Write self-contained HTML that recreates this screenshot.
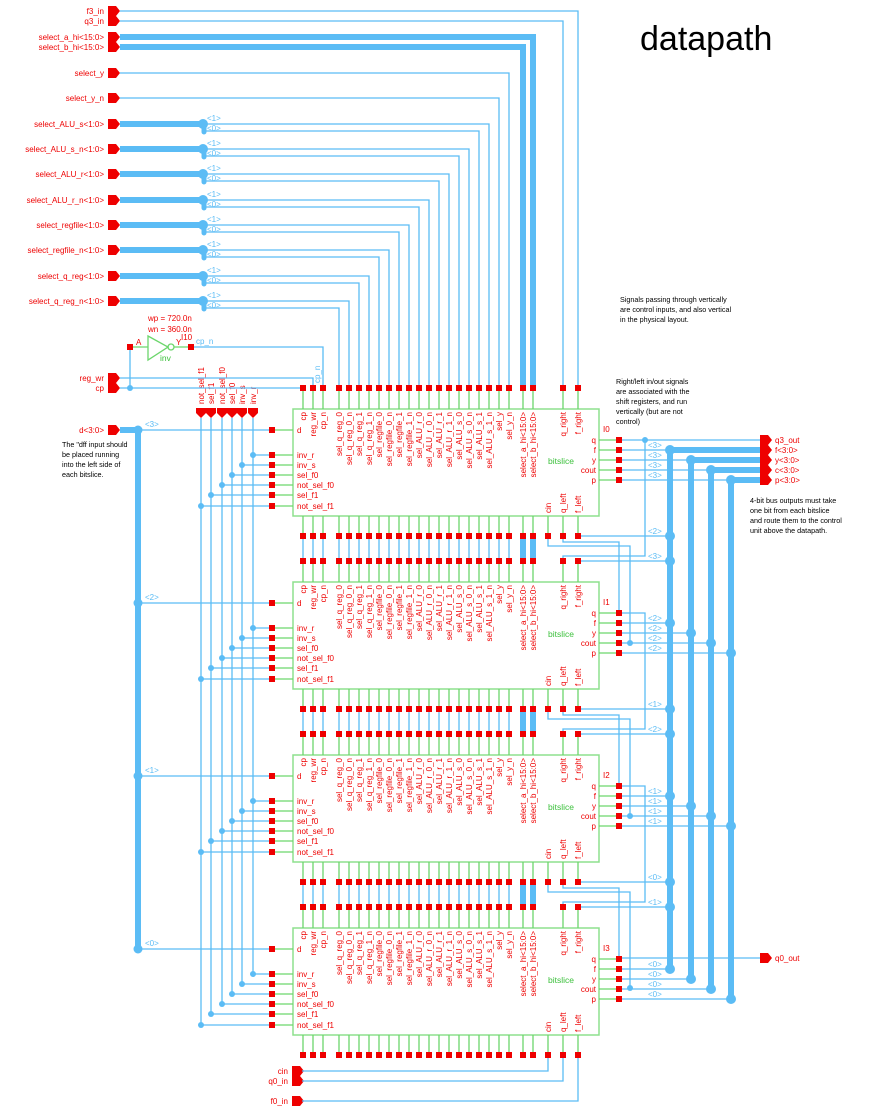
<!DOCTYPE html>
<html><head><meta charset="utf-8"><style>
html,body{margin:0;padding:0;background:#fff}
svg{display:block}
text{font-family:"Liberation Sans",sans-serif}
.r{fill:#ee0000;font-size:8px}
.g{fill:#3cc03c;font-size:8.5px}
.b{fill:#5bbcf5;font-size:8px}
.k{fill:#000;font-size:7.2px}
.w{stroke:#5bbcf5;stroke-width:1.3;fill:none}
.W{stroke:#5bbcf5;stroke-width:6;fill:none}
.gs{stroke:#6cd66c;stroke-width:1.3;fill:none}
.pin{fill:#ee0000}
.d{fill:#5bbcf5}
</style></head><body>
<svg width="879" height="1114" viewBox="0 0 879 1114" xmlns="http://www.w3.org/2000/svg">
<text x="640" y="50" font-size="34" fill="#000">datapath</text>

<text class="k" x="620" y="302">Signals passing through vertically</text>
<text class="k" x="620" y="312">are control inputs, and also vertical</text>
<text class="k" x="620" y="322">in the physical layout.</text>
<text class="k" x="616" y="384">Right/left in/out signals</text>
<text class="k" x="616" y="394">are associated with the</text>
<text class="k" x="616" y="404">shift registers, and run</text>
<text class="k" x="616" y="414">vertically (but are not</text>
<text class="k" x="616" y="424">control)</text>
<text class="k" x="750" y="503">4-bit bus outputs must take</text>
<text class="k" x="750" y="513">one bit from each bitslice</text>
<text class="k" x="750" y="523">and route them to the control</text>
<text class="k" x="750" y="533">unit above the datapath.</text>
<text class="k" x="62" y="447">The "dff input should</text>
<text class="k" x="62" y="457">be placed running</text>
<text class="k" x="62" y="467">into the left side of</text>
<text class="k" x="62" y="477">each bitslice.</text>

<!-- input pins left -->
<g class="r" text-anchor="end">
<text x="104" y="14">f3_in</text><text x="104" y="24">q3_in</text>
<text x="104" y="40">select_a_hi&lt;15:0&gt;</text><text x="104" y="50">select_b_hi&lt;15:0&gt;</text>
<text x="104" y="76">select_y</text><text x="104" y="101">select_y_n</text>
<text x="104" y="127">select_ALU_s&lt;1:0&gt;</text><text x="104" y="152">select_ALU_s_n&lt;1:0&gt;</text>
<text x="104" y="177">select_ALU_r&lt;1:0&gt;</text><text x="104" y="203">select_ALU_r_n&lt;1:0&gt;</text>
<text x="104" y="228">select_regfile&lt;1:0&gt;</text><text x="104" y="253">select_regfile_n&lt;1:0&gt;</text>
<text x="104" y="279">select_q_reg&lt;1:0&gt;</text><text x="104" y="304">select_q_reg_n&lt;1:0&gt;</text>
<text x="104" y="381">reg_wr</text><text x="104" y="391">cp</text>
<text x="104" y="433">d&lt;3:0&gt;</text>
<text x="288" y="1074">cin</text><text x="288" y="1084">q0_in</text><text x="288" y="1104">f0_in</text>
</g>
<g class="pin">
<path d="M108 6h8l4 5-4 5h-8zM108 16h8l4 5-4 5h-8zM108 32h8l4 5-4 5h-8zM108 42h8l4 5-4 5h-8zM108 68h8l4 5-4 5h-8zM108 93h8l4 5-4 5h-8zM108 119h8l4 5-4 5h-8zM108 144h8l4 5-4 5h-8zM108 169h8l4 5-4 5h-8zM108 195h8l4 5-4 5h-8zM108 220h8l4 5-4 5h-8zM108 245h8l4 5-4 5h-8zM108 271h8l4 5-4 5h-8zM108 296h8l4 5-4 5h-8zM108 373h8l4 5-4 5h-8zM108 383h8l4 5-4 5h-8zM108 425h8l4 5-4 5h-8z"/>
<path d="M292 1066h8l4 5-4 5h-8zM292 1076h8l4 5-4 5h-8zM292 1096h8l4 5-4 5h-8z"/>
<path d="M760 435h8l4 5-4 5h-8zM760 445h8l4 5-4 5h-8zM760 455h8l4 5-4 5h-8zM760 465h8l4 5-4 5h-8zM760 475h8l4 5-4 5h-8zM760 953h8l4 5-4 5h-8z"/>
<path d="M196 408h10v5l-5 5-5-5zM206 408h10v5l-5 5-5-5zM217 408h10v5l-5 5-5-5zM227 408h10v5l-5 5-5-5zM237 408h10v5l-5 5-5-5zM248 408h10v5l-5 5-5-5z"/>
</g>
<g class="r">
<text x="775" y="443">q3_out</text><text x="775" y="453">f&lt;3:0&gt;</text><text x="775" y="463">y&lt;3:0&gt;</text><text x="775" y="473">c&lt;3:0&gt;</text><text x="775" y="483">p&lt;3:0&gt;</text><text x="775" y="961">q0_out</text>
<text transform="translate(204,404) rotate(-90)">not_sel_f1</text>
<text transform="translate(214,404) rotate(-90)">sel_f1</text>
<text transform="translate(225,404) rotate(-90)">not_sel_f0</text>
<text transform="translate(235,404) rotate(-90)">sel_f0</text>
<text transform="translate(245,404) rotate(-90)">inv_s</text>
<text transform="translate(256,404) rotate(-90)">inv_r</text>
</g>

<!-- top wires -->
<path class="w" d="M120 11H578V385M120 21H563V385M120 73H509V385M120 98H499V385"/>
<path class="W" d="M120 37H533V385M120 47H523V385"/>
<g>
<path class="W" d="M120 124H200M120 149H200M120 174H200M120 200H200M120 225H200M120 250H200M120 276H200M120 301H200"/>
<path class="w" d="M200 124H489V385M204 124V131H479V385M200 149H469V385M204 149V156H459V385M200 174H449V385M204 174V181H439V385M200 200H429V385M204 200V207H419V385M200 225H409V385M204 225V232H399V385M200 250H389V385M204 250V257H379V385M200 276H369V385M204 276V283H359V385M200 301H349V385M204 301V308H339V385"/>
<path d="M204 124v8M204 149v8M204 174v8M204 200v8M204 225v8M204 250v8M204 276v8M204 301v8" stroke="#5bbcf5" stroke-width="5" stroke-linecap="round"/>
<g class="d"><circle cx="203" cy="124" r="5"/><circle cx="203" cy="149" r="5"/><circle cx="203" cy="174" r="5"/><circle cx="203" cy="200" r="5"/><circle cx="203" cy="225" r="5"/><circle cx="203" cy="250" r="5"/><circle cx="203" cy="276" r="5"/><circle cx="203" cy="301" r="5"/></g>
<g class="b"><text x="207" y="121">&lt;1&gt;</text><text x="207" y="131">&lt;0&gt;</text><text x="207" y="146">&lt;1&gt;</text><text x="207" y="156">&lt;0&gt;</text><text x="207" y="171">&lt;1&gt;</text><text x="207" y="181">&lt;0&gt;</text><text x="207" y="197">&lt;1&gt;</text><text x="207" y="207">&lt;0&gt;</text><text x="207" y="222">&lt;1&gt;</text><text x="207" y="232">&lt;0&gt;</text><text x="207" y="247">&lt;1&gt;</text><text x="207" y="257">&lt;0&gt;</text><text x="207" y="273">&lt;1&gt;</text><text x="207" y="283">&lt;0&gt;</text><text x="207" y="298">&lt;1&gt;</text><text x="207" y="308">&lt;0&gt;</text></g>
</g>

<!-- inverter -->
<g>
<text class="r" x="148" y="321">wp = 720.0n</text>
<text class="r" x="148" y="332">wn = 360.0n</text>
<text class="r" x="181" y="340" font-size="12">I10</text>
<text class="r" x="136" y="345">A</text><text class="r" x="176" y="345">Y</text>
<path d="M148 336L168 347L148 360Z" fill="none" stroke="#6cd66c" stroke-width="1.3"/>
<circle cx="171" cy="347" r="3" fill="none" stroke="#6cd66c" stroke-width="1.3"/>
<path class="gs" d="M133 347H148M174 347H188"/>
<text class="g" x="160" y="361">inv</text>
<rect class="pin" x="127" y="344" width="6" height="6"/><rect class="pin" x="188" y="344" width="6" height="6"/>
<text class="b" x="196" y="344">cp_n</text>
<path class="w" d="M194 347H323V385M130 350V388M120 378H313V385M120 388H303"/>
<circle class="d" cx="130" cy="388" r="3"/>
<text class="b" transform="translate(320,383) rotate(-90)">cp_n</text>
</g>

<!-- d bus -->
<path class="W" d="M120 430H138V948"/>
<!-- control verticals -->
<path class="w" d="M253 418V974M242 418V984M232 418V994M222 418V1004M211 418V1014M201 418V1025"/>

<!-- inter-block column wires -->
<path class="w" d="M303 536V561M313 536V561M323 536V561M339 536V561M349 536V561M359 536V561M369 536V561M379 536V561M389 536V561M399 536V561M409 536V561M419 536V561M429 536V561M439 536V561M449 536V561M459 536V561M469 536V561M479 536V561M489 536V561M499 536V561M509 536V561
M303 709V734M313 709V734M323 709V734M339 709V734M349 709V734M359 709V734M369 709V734M379 709V734M389 709V734M399 709V734M409 709V734M419 709V734M429 709V734M439 709V734M449 709V734M459 709V734M469 709V734M479 709V734M489 709V734M499 709V734M509 709V734
M303 882V907M313 882V907M323 882V907M339 882V907M349 882V907M359 882V907M369 882V907M379 882V907M389 882V907M399 882V907M409 882V907M419 882V907M429 882V907M439 882V907M449 882V907M459 882V907M469 882V907M479 882V907M489 882V907M499 882V907M509 882V907"/>
<path class="W" d="M523 536V561M533 536V561M523 709V734M533 709V734M523 882V907M533 882V907" stroke-width="5"/>

<!-- right side q chains, shift links -->
<path class="w" d="M622 440H760M645 440V556H563V561M622 613H645V729H563V734M622 786H645V902H563V907M622 958H760
M578 536H670M578 561H670M578 709H670M578 734H670M578 882H670M578 907H670
M563 536V542H619V613M548 536V546H630V643M563 709V715H619V786M548 709V719H630V816M563 882V888H619V958M548 882V892H630V988
M548 1055V1071H302M563 1055V1081H302M578 1055V1101H302"/>
<g class="d"><circle cx="645" cy="440" r="3"/><circle cx="630" cy="643" r="3"/><circle cx="630" cy="816" r="3"/><circle cx="630" cy="988" r="3"/>
<circle cx="670" cy="536" r="5"/><circle cx="670" cy="561" r="5"/><circle cx="670" cy="709" r="5"/><circle cx="670" cy="734" r="5"/><circle cx="670" cy="882" r="5"/><circle cx="670" cy="907" r="5"/></g>
<g class="b"><text x="648" y="534">&lt;2&gt;</text><text x="648" y="559">&lt;3&gt;</text><text x="648" y="707">&lt;1&gt;</text><text x="648" y="732">&lt;2&gt;</text><text x="648" y="880">&lt;0&gt;</text><text x="648" y="905">&lt;1&gt;</text></g>
<!-- output buses -->
<path class="W" d="M760 450H670V968M760 460H691V978M760 470H711V988M760 480H731V998"/>

<!-- BLOCK TEMPLATE x4 -->
<g id="b0">
<rect x="293" y="409" width="306" height="107" fill="none" stroke="#8de08d" stroke-width="1.5"/>
<path class="gs" d="M303 391V409M313 391V409M323 391V409M339 391V409M349 391V409M359 391V409M369 391V409M379 391V409M389 391V409M399 391V409M409 391V409M419 391V409M429 391V409M439 391V409M449 391V409M459 391V409M469 391V409M479 391V409M489 391V409M499 391V409M509 391V409M523 391V409M533 391V409M563 391V409M578 391V409M303 516V533M313 516V533M323 516V533M339 516V533M349 516V533M359 516V533M369 516V533M379 516V533M389 516V533M399 516V533M409 516V533M419 516V533M429 516V533M439 516V533M449 516V533M459 516V533M469 516V533M479 516V533M489 516V533M499 516V533M509 516V533M523 516V533M533 516V533M548 516V533M563 516V533M578 516V533M275 430H293M275 455H293M275 465H293M275 475H293M275 485H293M275 495H293M275 506H293M599 440H616M599 450H616M599 460H616M599 470H616M599 480H616"/>
<path class="pin" d="M300 385h6v6h-6zM310 385h6v6h-6zM320 385h6v6h-6zM336 385h6v6h-6zM346 385h6v6h-6zM356 385h6v6h-6zM366 385h6v6h-6zM376 385h6v6h-6zM386 385h6v6h-6zM396 385h6v6h-6zM406 385h6v6h-6zM416 385h6v6h-6zM426 385h6v6h-6zM436 385h6v6h-6zM446 385h6v6h-6zM456 385h6v6h-6zM466 385h6v6h-6zM476 385h6v6h-6zM486 385h6v6h-6zM496 385h6v6h-6zM506 385h6v6h-6zM520 385h6v6h-6zM530 385h6v6h-6zM560 385h6v6h-6zM575 385h6v6h-6zM300 533h6v6h-6zM310 533h6v6h-6zM320 533h6v6h-6zM336 533h6v6h-6zM346 533h6v6h-6zM356 533h6v6h-6zM366 533h6v6h-6zM376 533h6v6h-6zM386 533h6v6h-6zM396 533h6v6h-6zM406 533h6v6h-6zM416 533h6v6h-6zM426 533h6v6h-6zM436 533h6v6h-6zM446 533h6v6h-6zM456 533h6v6h-6zM466 533h6v6h-6zM476 533h6v6h-6zM486 533h6v6h-6zM496 533h6v6h-6zM506 533h6v6h-6zM520 533h6v6h-6zM530 533h6v6h-6zM545 533h6v6h-6zM560 533h6v6h-6zM575 533h6v6h-6zM269 427h6v6h-6zM269 452h6v6h-6zM269 462h6v6h-6zM269 472h6v6h-6zM269 482h6v6h-6zM269 492h6v6h-6zM269 503h6v6h-6zM616 437h6v6h-6zM616 447h6v6h-6zM616 457h6v6h-6zM616 467h6v6h-6zM616 477h6v6h-6z"/>
<path class="w" d="M138 430H269M253 455H269M242 465H269M232 475H269M222 485H269M211 495H269M201 506H269M622 450H670M622 460H691M622 470H711M622 480H731"/>
<g class="d"><circle cx="253" cy="455" r="3"/><circle cx="242" cy="465" r="3"/><circle cx="232" cy="475" r="3"/><circle cx="222" cy="485" r="3"/><circle cx="211" cy="495" r="3"/><circle cx="201" cy="506" r="3"/><circle cx="138" cy="430" r="4.5"/><circle cx="670" cy="450" r="5"/><circle cx="691" cy="460" r="5"/><circle cx="711" cy="470" r="5"/><circle cx="731" cy="480" r="5"/></g>
<g class="b"><text x="145" y="427">&lt;3&gt;</text><text x="648" y="448">&lt;3&gt;</text><text x="648" y="458">&lt;3&gt;</text><text x="648" y="468">&lt;3&gt;</text><text x="648" y="478">&lt;3&gt;</text></g>
<g class="r" text-anchor="end">
<text transform="translate(306,412) rotate(-90)">cp</text><text transform="translate(316,412) rotate(-90)">reg_wr</text><text transform="translate(326,412) rotate(-90)">cp_n</text><text transform="translate(342,412) rotate(-90)">sel_q_reg_0</text><text transform="translate(352,412) rotate(-90)">sel_q_reg_0_n</text><text transform="translate(362,412) rotate(-90)">sel_q_reg_1</text><text transform="translate(372,412) rotate(-90)">sel_q_reg_1_n</text><text transform="translate(382,412) rotate(-90)">sel_regfile_0</text><text transform="translate(392,412) rotate(-90)">sel_regfile_0_n</text><text transform="translate(402,412) rotate(-90)">sel_regfile_1</text><text transform="translate(412,412) rotate(-90)">sel_regfile_1_n</text><text transform="translate(422,412) rotate(-90)">sel_ALU_r_0</text><text transform="translate(432,412) rotate(-90)">sel_ALU_r_0_n</text><text transform="translate(442,412) rotate(-90)">sel_ALU_r_1</text><text transform="translate(452,412) rotate(-90)">sel_ALU_r_1_n</text><text transform="translate(462,412) rotate(-90)">sel_ALU_s_0</text><text transform="translate(472,412) rotate(-90)">sel_ALU_s_0_n</text><text transform="translate(482,412) rotate(-90)">sel_ALU_s_1</text><text transform="translate(492,412) rotate(-90)">sel_ALU_s_1_n</text><text transform="translate(502,412) rotate(-90)">sel_y</text><text transform="translate(512,412) rotate(-90)">sel_y_n</text><text transform="translate(526,412) rotate(-90)">select_a_hi&lt;15:0&gt;</text><text transform="translate(536,412) rotate(-90)">select_b_hi&lt;15:0&gt;</text><text transform="translate(566,412) rotate(-90)">q_right</text><text transform="translate(581,412) rotate(-90)">f_right</text>
<text x="596" y="443">q</text><text x="596" y="453">f</text><text x="596" y="463">y</text><text x="596" y="473">cout</text><text x="596" y="483">p</text>
</g>
<g class="r"><text transform="translate(551,513) rotate(-90)">cin</text><text transform="translate(566,513) rotate(-90)">q_left</text><text transform="translate(581,513) rotate(-90)">f_left</text>
<text x="297" y="433">d</text><text x="297" y="458">inv_r</text><text x="297" y="468">inv_s</text><text x="297" y="478">sel_f0</text><text x="297" y="488">not_sel_f0</text><text x="297" y="498">sel_f1</text><text x="297" y="509">not_sel_f1</text>
<text x="603" y="432">I0</text></g>
<text class="g" x="548" y="464">bitslice</text>
</g>

<g transform="translate(0,173)">
<rect x="293" y="409" width="306" height="107" fill="none" stroke="#8de08d" stroke-width="1.5"/>
<path class="gs" d="M303 391V409M313 391V409M323 391V409M339 391V409M349 391V409M359 391V409M369 391V409M379 391V409M389 391V409M399 391V409M409 391V409M419 391V409M429 391V409M439 391V409M449 391V409M459 391V409M469 391V409M479 391V409M489 391V409M499 391V409M509 391V409M523 391V409M533 391V409M563 391V409M578 391V409M303 516V533M313 516V533M323 516V533M339 516V533M349 516V533M359 516V533M369 516V533M379 516V533M389 516V533M399 516V533M409 516V533M419 516V533M429 516V533M439 516V533M449 516V533M459 516V533M469 516V533M479 516V533M489 516V533M499 516V533M509 516V533M523 516V533M533 516V533M548 516V533M563 516V533M578 516V533M275 430H293M275 455H293M275 465H293M275 475H293M275 485H293M275 495H293M275 506H293M599 440H616M599 450H616M599 460H616M599 470H616M599 480H616"/>
<path class="pin" d="M300 385h6v6h-6zM310 385h6v6h-6zM320 385h6v6h-6zM336 385h6v6h-6zM346 385h6v6h-6zM356 385h6v6h-6zM366 385h6v6h-6zM376 385h6v6h-6zM386 385h6v6h-6zM396 385h6v6h-6zM406 385h6v6h-6zM416 385h6v6h-6zM426 385h6v6h-6zM436 385h6v6h-6zM446 385h6v6h-6zM456 385h6v6h-6zM466 385h6v6h-6zM476 385h6v6h-6zM486 385h6v6h-6zM496 385h6v6h-6zM506 385h6v6h-6zM520 385h6v6h-6zM530 385h6v6h-6zM560 385h6v6h-6zM575 385h6v6h-6zM300 533h6v6h-6zM310 533h6v6h-6zM320 533h6v6h-6zM336 533h6v6h-6zM346 533h6v6h-6zM356 533h6v6h-6zM366 533h6v6h-6zM376 533h6v6h-6zM386 533h6v6h-6zM396 533h6v6h-6zM406 533h6v6h-6zM416 533h6v6h-6zM426 533h6v6h-6zM436 533h6v6h-6zM446 533h6v6h-6zM456 533h6v6h-6zM466 533h6v6h-6zM476 533h6v6h-6zM486 533h6v6h-6zM496 533h6v6h-6zM506 533h6v6h-6zM520 533h6v6h-6zM530 533h6v6h-6zM545 533h6v6h-6zM560 533h6v6h-6zM575 533h6v6h-6zM269 427h6v6h-6zM269 452h6v6h-6zM269 462h6v6h-6zM269 472h6v6h-6zM269 482h6v6h-6zM269 492h6v6h-6zM269 503h6v6h-6zM616 437h6v6h-6zM616 447h6v6h-6zM616 457h6v6h-6zM616 467h6v6h-6zM616 477h6v6h-6z"/>
<path class="w" d="M138 430H269M253 455H269M242 465H269M232 475H269M222 485H269M211 495H269M201 506H269M622 450H670M622 460H691M622 470H711M622 480H731"/>
<g class="d"><circle cx="253" cy="455" r="3"/><circle cx="242" cy="465" r="3"/><circle cx="232" cy="475" r="3"/><circle cx="222" cy="485" r="3"/><circle cx="211" cy="495" r="3"/><circle cx="201" cy="506" r="3"/><circle cx="138" cy="430" r="4.5"/><circle cx="670" cy="450" r="5"/><circle cx="691" cy="460" r="5"/><circle cx="711" cy="470" r="5"/><circle cx="731" cy="480" r="5"/></g>
<g class="b"><text x="145" y="427">&lt;2&gt;</text><text x="648" y="448">&lt;2&gt;</text><text x="648" y="458">&lt;2&gt;</text><text x="648" y="468">&lt;2&gt;</text><text x="648" y="478">&lt;2&gt;</text></g>
<g class="r" text-anchor="end">
<text transform="translate(306,412) rotate(-90)">cp</text><text transform="translate(316,412) rotate(-90)">reg_wr</text><text transform="translate(326,412) rotate(-90)">cp_n</text><text transform="translate(342,412) rotate(-90)">sel_q_reg_0</text><text transform="translate(352,412) rotate(-90)">sel_q_reg_0_n</text><text transform="translate(362,412) rotate(-90)">sel_q_reg_1</text><text transform="translate(372,412) rotate(-90)">sel_q_reg_1_n</text><text transform="translate(382,412) rotate(-90)">sel_regfile_0</text><text transform="translate(392,412) rotate(-90)">sel_regfile_0_n</text><text transform="translate(402,412) rotate(-90)">sel_regfile_1</text><text transform="translate(412,412) rotate(-90)">sel_regfile_1_n</text><text transform="translate(422,412) rotate(-90)">sel_ALU_r_0</text><text transform="translate(432,412) rotate(-90)">sel_ALU_r_0_n</text><text transform="translate(442,412) rotate(-90)">sel_ALU_r_1</text><text transform="translate(452,412) rotate(-90)">sel_ALU_r_1_n</text><text transform="translate(462,412) rotate(-90)">sel_ALU_s_0</text><text transform="translate(472,412) rotate(-90)">sel_ALU_s_0_n</text><text transform="translate(482,412) rotate(-90)">sel_ALU_s_1</text><text transform="translate(492,412) rotate(-90)">sel_ALU_s_1_n</text><text transform="translate(502,412) rotate(-90)">sel_y</text><text transform="translate(512,412) rotate(-90)">sel_y_n</text><text transform="translate(526,412) rotate(-90)">select_a_hi&lt;15:0&gt;</text><text transform="translate(536,412) rotate(-90)">select_b_hi&lt;15:0&gt;</text><text transform="translate(566,412) rotate(-90)">q_right</text><text transform="translate(581,412) rotate(-90)">f_right</text>
<text x="596" y="443">q</text><text x="596" y="453">f</text><text x="596" y="463">y</text><text x="596" y="473">cout</text><text x="596" y="483">p</text>
</g>
<g class="r"><text transform="translate(551,513) rotate(-90)">cin</text><text transform="translate(566,513) rotate(-90)">q_left</text><text transform="translate(581,513) rotate(-90)">f_left</text>
<text x="297" y="433">d</text><text x="297" y="458">inv_r</text><text x="297" y="468">inv_s</text><text x="297" y="478">sel_f0</text><text x="297" y="488">not_sel_f0</text><text x="297" y="498">sel_f1</text><text x="297" y="509">not_sel_f1</text>
<text x="603" y="432">I1</text></g>
<text class="g" x="548" y="464">bitslice</text>
</g>

<g transform="translate(0,346)">
<rect x="293" y="409" width="306" height="107" fill="none" stroke="#8de08d" stroke-width="1.5"/>
<path class="gs" d="M303 391V409M313 391V409M323 391V409M339 391V409M349 391V409M359 391V409M369 391V409M379 391V409M389 391V409M399 391V409M409 391V409M419 391V409M429 391V409M439 391V409M449 391V409M459 391V409M469 391V409M479 391V409M489 391V409M499 391V409M509 391V409M523 391V409M533 391V409M563 391V409M578 391V409M303 516V533M313 516V533M323 516V533M339 516V533M349 516V533M359 516V533M369 516V533M379 516V533M389 516V533M399 516V533M409 516V533M419 516V533M429 516V533M439 516V533M449 516V533M459 516V533M469 516V533M479 516V533M489 516V533M499 516V533M509 516V533M523 516V533M533 516V533M548 516V533M563 516V533M578 516V533M275 430H293M275 455H293M275 465H293M275 475H293M275 485H293M275 495H293M275 506H293M599 440H616M599 450H616M599 460H616M599 470H616M599 480H616"/>
<path class="pin" d="M300 385h6v6h-6zM310 385h6v6h-6zM320 385h6v6h-6zM336 385h6v6h-6zM346 385h6v6h-6zM356 385h6v6h-6zM366 385h6v6h-6zM376 385h6v6h-6zM386 385h6v6h-6zM396 385h6v6h-6zM406 385h6v6h-6zM416 385h6v6h-6zM426 385h6v6h-6zM436 385h6v6h-6zM446 385h6v6h-6zM456 385h6v6h-6zM466 385h6v6h-6zM476 385h6v6h-6zM486 385h6v6h-6zM496 385h6v6h-6zM506 385h6v6h-6zM520 385h6v6h-6zM530 385h6v6h-6zM560 385h6v6h-6zM575 385h6v6h-6zM300 533h6v6h-6zM310 533h6v6h-6zM320 533h6v6h-6zM336 533h6v6h-6zM346 533h6v6h-6zM356 533h6v6h-6zM366 533h6v6h-6zM376 533h6v6h-6zM386 533h6v6h-6zM396 533h6v6h-6zM406 533h6v6h-6zM416 533h6v6h-6zM426 533h6v6h-6zM436 533h6v6h-6zM446 533h6v6h-6zM456 533h6v6h-6zM466 533h6v6h-6zM476 533h6v6h-6zM486 533h6v6h-6zM496 533h6v6h-6zM506 533h6v6h-6zM520 533h6v6h-6zM530 533h6v6h-6zM545 533h6v6h-6zM560 533h6v6h-6zM575 533h6v6h-6zM269 427h6v6h-6zM269 452h6v6h-6zM269 462h6v6h-6zM269 472h6v6h-6zM269 482h6v6h-6zM269 492h6v6h-6zM269 503h6v6h-6zM616 437h6v6h-6zM616 447h6v6h-6zM616 457h6v6h-6zM616 467h6v6h-6zM616 477h6v6h-6z"/>
<path class="w" d="M138 430H269M253 455H269M242 465H269M232 475H269M222 485H269M211 495H269M201 506H269M622 450H670M622 460H691M622 470H711M622 480H731"/>
<g class="d"><circle cx="253" cy="455" r="3"/><circle cx="242" cy="465" r="3"/><circle cx="232" cy="475" r="3"/><circle cx="222" cy="485" r="3"/><circle cx="211" cy="495" r="3"/><circle cx="201" cy="506" r="3"/><circle cx="138" cy="430" r="4.5"/><circle cx="670" cy="450" r="5"/><circle cx="691" cy="460" r="5"/><circle cx="711" cy="470" r="5"/><circle cx="731" cy="480" r="5"/></g>
<g class="b"><text x="145" y="427">&lt;1&gt;</text><text x="648" y="448">&lt;1&gt;</text><text x="648" y="458">&lt;1&gt;</text><text x="648" y="468">&lt;1&gt;</text><text x="648" y="478">&lt;1&gt;</text></g>
<g class="r" text-anchor="end">
<text transform="translate(306,412) rotate(-90)">cp</text><text transform="translate(316,412) rotate(-90)">reg_wr</text><text transform="translate(326,412) rotate(-90)">cp_n</text><text transform="translate(342,412) rotate(-90)">sel_q_reg_0</text><text transform="translate(352,412) rotate(-90)">sel_q_reg_0_n</text><text transform="translate(362,412) rotate(-90)">sel_q_reg_1</text><text transform="translate(372,412) rotate(-90)">sel_q_reg_1_n</text><text transform="translate(382,412) rotate(-90)">sel_regfile_0</text><text transform="translate(392,412) rotate(-90)">sel_regfile_0_n</text><text transform="translate(402,412) rotate(-90)">sel_regfile_1</text><text transform="translate(412,412) rotate(-90)">sel_regfile_1_n</text><text transform="translate(422,412) rotate(-90)">sel_ALU_r_0</text><text transform="translate(432,412) rotate(-90)">sel_ALU_r_0_n</text><text transform="translate(442,412) rotate(-90)">sel_ALU_r_1</text><text transform="translate(452,412) rotate(-90)">sel_ALU_r_1_n</text><text transform="translate(462,412) rotate(-90)">sel_ALU_s_0</text><text transform="translate(472,412) rotate(-90)">sel_ALU_s_0_n</text><text transform="translate(482,412) rotate(-90)">sel_ALU_s_1</text><text transform="translate(492,412) rotate(-90)">sel_ALU_s_1_n</text><text transform="translate(502,412) rotate(-90)">sel_y</text><text transform="translate(512,412) rotate(-90)">sel_y_n</text><text transform="translate(526,412) rotate(-90)">select_a_hi&lt;15:0&gt;</text><text transform="translate(536,412) rotate(-90)">select_b_hi&lt;15:0&gt;</text><text transform="translate(566,412) rotate(-90)">q_right</text><text transform="translate(581,412) rotate(-90)">f_right</text>
<text x="596" y="443">q</text><text x="596" y="453">f</text><text x="596" y="463">y</text><text x="596" y="473">cout</text><text x="596" y="483">p</text>
</g>
<g class="r"><text transform="translate(551,513) rotate(-90)">cin</text><text transform="translate(566,513) rotate(-90)">q_left</text><text transform="translate(581,513) rotate(-90)">f_left</text>
<text x="297" y="433">d</text><text x="297" y="458">inv_r</text><text x="297" y="468">inv_s</text><text x="297" y="478">sel_f0</text><text x="297" y="488">not_sel_f0</text><text x="297" y="498">sel_f1</text><text x="297" y="509">not_sel_f1</text>
<text x="603" y="432">I2</text></g>
<text class="g" x="548" y="464">bitslice</text>
</g>

<g transform="translate(0,519)">
<rect x="293" y="409" width="306" height="107" fill="none" stroke="#8de08d" stroke-width="1.5"/>
<path class="gs" d="M303 391V409M313 391V409M323 391V409M339 391V409M349 391V409M359 391V409M369 391V409M379 391V409M389 391V409M399 391V409M409 391V409M419 391V409M429 391V409M439 391V409M449 391V409M459 391V409M469 391V409M479 391V409M489 391V409M499 391V409M509 391V409M523 391V409M533 391V409M563 391V409M578 391V409M303 516V533M313 516V533M323 516V533M339 516V533M349 516V533M359 516V533M369 516V533M379 516V533M389 516V533M399 516V533M409 516V533M419 516V533M429 516V533M439 516V533M449 516V533M459 516V533M469 516V533M479 516V533M489 516V533M499 516V533M509 516V533M523 516V533M533 516V533M548 516V533M563 516V533M578 516V533M275 430H293M275 455H293M275 465H293M275 475H293M275 485H293M275 495H293M275 506H293M599 440H616M599 450H616M599 460H616M599 470H616M599 480H616"/>
<path class="pin" d="M300 385h6v6h-6zM310 385h6v6h-6zM320 385h6v6h-6zM336 385h6v6h-6zM346 385h6v6h-6zM356 385h6v6h-6zM366 385h6v6h-6zM376 385h6v6h-6zM386 385h6v6h-6zM396 385h6v6h-6zM406 385h6v6h-6zM416 385h6v6h-6zM426 385h6v6h-6zM436 385h6v6h-6zM446 385h6v6h-6zM456 385h6v6h-6zM466 385h6v6h-6zM476 385h6v6h-6zM486 385h6v6h-6zM496 385h6v6h-6zM506 385h6v6h-6zM520 385h6v6h-6zM530 385h6v6h-6zM560 385h6v6h-6zM575 385h6v6h-6zM300 533h6v6h-6zM310 533h6v6h-6zM320 533h6v6h-6zM336 533h6v6h-6zM346 533h6v6h-6zM356 533h6v6h-6zM366 533h6v6h-6zM376 533h6v6h-6zM386 533h6v6h-6zM396 533h6v6h-6zM406 533h6v6h-6zM416 533h6v6h-6zM426 533h6v6h-6zM436 533h6v6h-6zM446 533h6v6h-6zM456 533h6v6h-6zM466 533h6v6h-6zM476 533h6v6h-6zM486 533h6v6h-6zM496 533h6v6h-6zM506 533h6v6h-6zM520 533h6v6h-6zM530 533h6v6h-6zM545 533h6v6h-6zM560 533h6v6h-6zM575 533h6v6h-6zM269 427h6v6h-6zM269 452h6v6h-6zM269 462h6v6h-6zM269 472h6v6h-6zM269 482h6v6h-6zM269 492h6v6h-6zM269 503h6v6h-6zM616 437h6v6h-6zM616 447h6v6h-6zM616 457h6v6h-6zM616 467h6v6h-6zM616 477h6v6h-6z"/>
<path class="w" d="M138 430H269M253 455H269M242 465H269M232 475H269M222 485H269M211 495H269M201 506H269M622 450H670M622 460H691M622 470H711M622 480H731"/>
<g class="d"><circle cx="253" cy="455" r="3"/><circle cx="242" cy="465" r="3"/><circle cx="232" cy="475" r="3"/><circle cx="222" cy="485" r="3"/><circle cx="211" cy="495" r="3"/><circle cx="201" cy="506" r="3"/><circle cx="138" cy="430" r="4.5"/><circle cx="670" cy="450" r="5"/><circle cx="691" cy="460" r="5"/><circle cx="711" cy="470" r="5"/><circle cx="731" cy="480" r="5"/></g>
<g class="b"><text x="145" y="427">&lt;0&gt;</text><text x="648" y="448">&lt;0&gt;</text><text x="648" y="458">&lt;0&gt;</text><text x="648" y="468">&lt;0&gt;</text><text x="648" y="478">&lt;0&gt;</text></g>
<g class="r" text-anchor="end">
<text transform="translate(306,412) rotate(-90)">cp</text><text transform="translate(316,412) rotate(-90)">reg_wr</text><text transform="translate(326,412) rotate(-90)">cp_n</text><text transform="translate(342,412) rotate(-90)">sel_q_reg_0</text><text transform="translate(352,412) rotate(-90)">sel_q_reg_0_n</text><text transform="translate(362,412) rotate(-90)">sel_q_reg_1</text><text transform="translate(372,412) rotate(-90)">sel_q_reg_1_n</text><text transform="translate(382,412) rotate(-90)">sel_regfile_0</text><text transform="translate(392,412) rotate(-90)">sel_regfile_0_n</text><text transform="translate(402,412) rotate(-90)">sel_regfile_1</text><text transform="translate(412,412) rotate(-90)">sel_regfile_1_n</text><text transform="translate(422,412) rotate(-90)">sel_ALU_r_0</text><text transform="translate(432,412) rotate(-90)">sel_ALU_r_0_n</text><text transform="translate(442,412) rotate(-90)">sel_ALU_r_1</text><text transform="translate(452,412) rotate(-90)">sel_ALU_r_1_n</text><text transform="translate(462,412) rotate(-90)">sel_ALU_s_0</text><text transform="translate(472,412) rotate(-90)">sel_ALU_s_0_n</text><text transform="translate(482,412) rotate(-90)">sel_ALU_s_1</text><text transform="translate(492,412) rotate(-90)">sel_ALU_s_1_n</text><text transform="translate(502,412) rotate(-90)">sel_y</text><text transform="translate(512,412) rotate(-90)">sel_y_n</text><text transform="translate(526,412) rotate(-90)">select_a_hi&lt;15:0&gt;</text><text transform="translate(536,412) rotate(-90)">select_b_hi&lt;15:0&gt;</text><text transform="translate(566,412) rotate(-90)">q_right</text><text transform="translate(581,412) rotate(-90)">f_right</text>
<text x="596" y="443">q</text><text x="596" y="453">f</text><text x="596" y="463">y</text><text x="596" y="473">cout</text><text x="596" y="483">p</text>
</g>
<g class="r"><text transform="translate(551,513) rotate(-90)">cin</text><text transform="translate(566,513) rotate(-90)">q_left</text><text transform="translate(581,513) rotate(-90)">f_left</text>
<text x="297" y="433">d</text><text x="297" y="458">inv_r</text><text x="297" y="468">inv_s</text><text x="297" y="478">sel_f0</text><text x="297" y="488">not_sel_f0</text><text x="297" y="498">sel_f1</text><text x="297" y="509">not_sel_f1</text>
<text x="603" y="432">I3</text></g>
<text class="g" x="548" y="464">bitslice</text>
</g>
</svg>
</body></html>
